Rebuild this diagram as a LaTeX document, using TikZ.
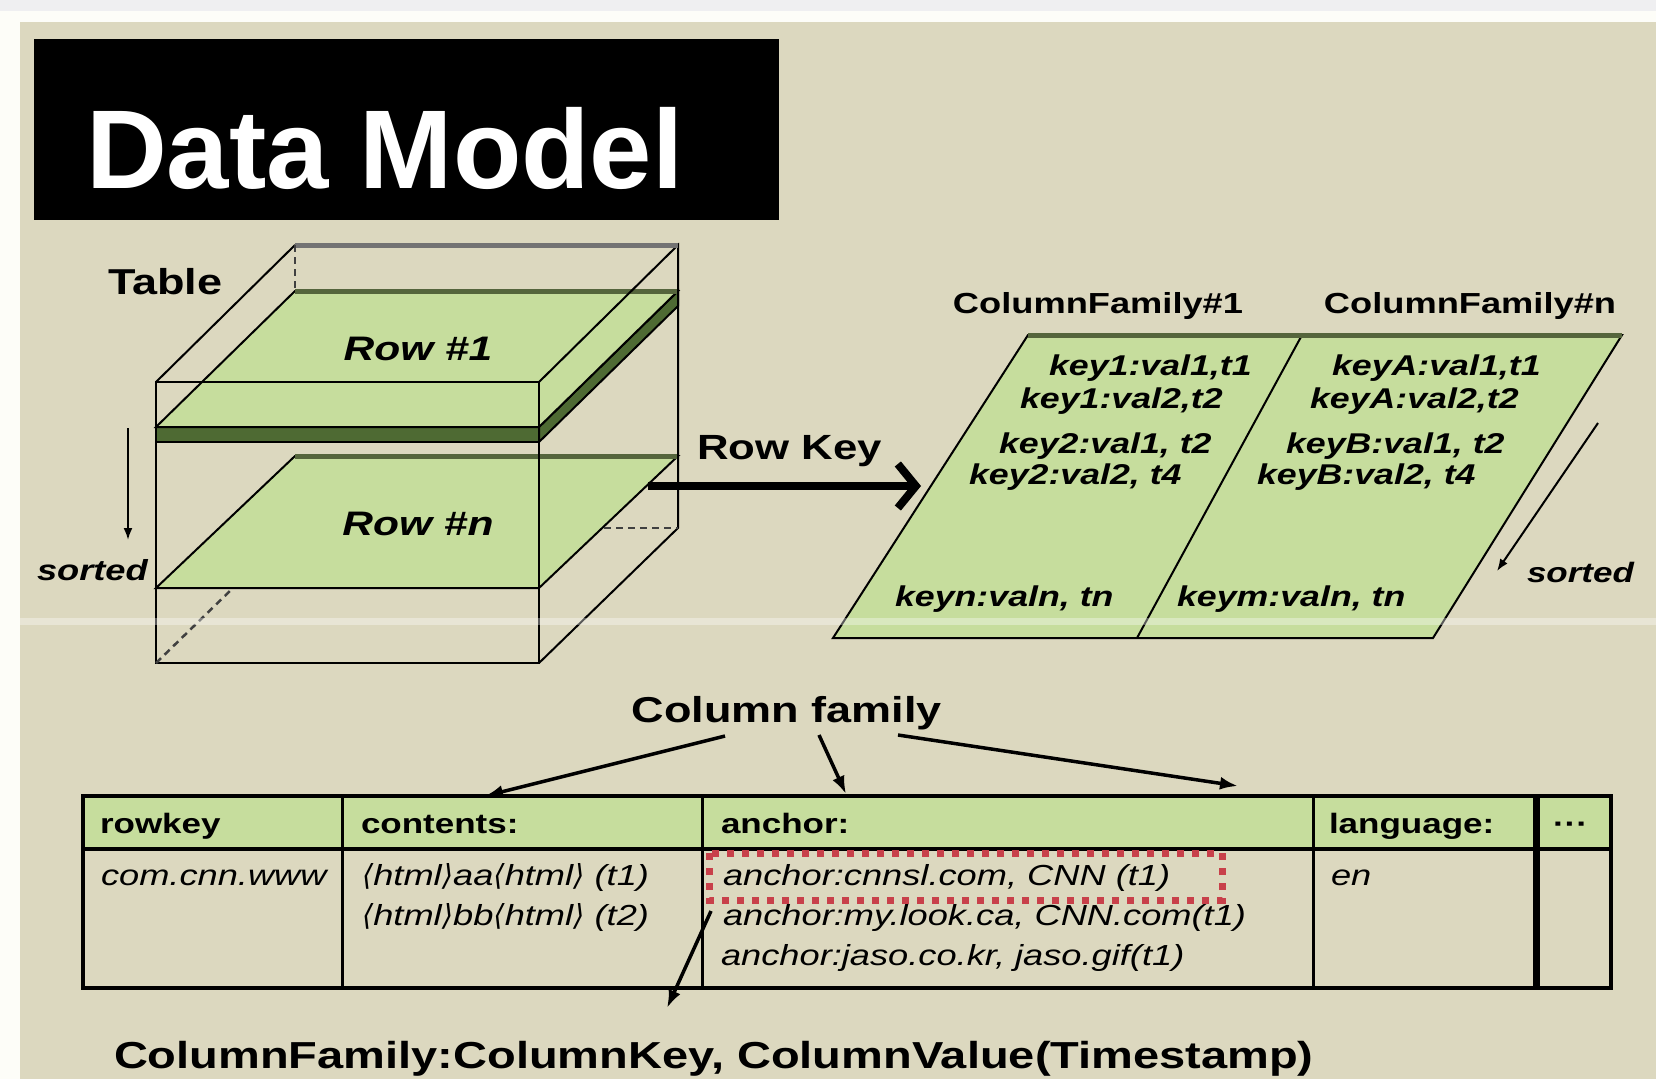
\documentclass[tikz,border=0pt]{standalone}
\usepackage{fontspec}
\setmainfont{Liberation Sans}
\newfontfamily\wf[FakeStretch=1.25]{Liberation Sans}
\newfontfamily\djv{DejaVu Sans}
\usetikzlibrary{arrows.meta}
\definecolor{panel}{HTML}{DCD8BF}
\definecolor{leaf}{HTML}{C6DD9D}
\definecolor{slab}{HTML}{4E6A33}
\definecolor{rim}{HTML}{55653C}
\definecolor{redmark}{HTML}{C8404A}
\definecolor{topstrip}{HTML}{EFEFF1}
\definecolor{paper}{HTML}{FDFDF8}
\newcommand\setfs[1]{\fontsize{#1}{#1}\selectfont}
\newcommand\lab{{\djv ⟨}}
\newcommand\rab{{\djv ⟩}}

\begin{document}
\begin{tikzpicture}[x=1pt,y=-1pt,
  edge/.style={draw=black,line width=2},
  hidden/.style={draw=black!75,line width=2.5,dash pattern=on 7pt off 5pt},
  rimline/.style={draw=rim,line width=5},
  lbl/.style={inner sep=0,outer sep=0,anchor=base west},
  ctr/.style={inner sep=0,outer sep=0,anchor=base},
  keytxt/.style={lbl,font=\wf\bfseries\itshape\setfs{28.6}},
  celltxt/.style={lbl,font=\wf\itshape\setfs{29}},
  headtxt/.style={lbl,font=\wf\bfseries\setfs{28}},
  ptr/.style={line width=3.5,-{Latex[length=18pt,width=13pt]}},
]
\useasboundingbox (0,0) rectangle (1656,1079);

% page and panel
\fill[paper] (0,0) rectangle (1656,1079);
\fill[topstrip] (0,0) rectangle (1656,11);
\fill[panel] (20,22) rectangle (1656,1079);

% title bar
\fill[black] (34,39) rectangle (779,220);
\node[lbl,text=white,font=\bfseries\setfs{112}] (title) at (86,188) {Data Model};

% ---- table cube ----
\coordinate (FTL) at (156,382); \coordinate (FTR) at (539,382);
\coordinate (FBL) at (156,663); \coordinate (FBR) at (539,663);
\coordinate (BTL) at (295,245); \coordinate (BTR) at (678,245);
\coordinate (BBR) at (678,528);

% row #n sheet
\filldraw[fill=leaf,edge] (156,588) -- (539,588) -- (678,456) -- (295,456) -- cycle;
\draw[rimline] (295,456) -- (678,456);
% row #1 slab
\filldraw[fill=slab,edge] (156,427) -- (539,427) -- (539,442) -- (156,442) -- cycle;
\filldraw[fill=slab,edge] (539,427) -- (678,291) -- (678,306) -- (539,442) -- cycle;
\filldraw[fill=leaf,edge] (156,427) -- (539,427) -- (678,291) -- (295,291) -- cycle;
\draw[rimline] (295,291) -- (678,291);

% cube edges
\draw[edge] (FTL) rectangle (FBR);
\draw[edge] (FTL) -- (BTL);
\draw[edge] (FTR) -- (BTR) -- (BBR) -- (FBR);
\draw[draw=black!55,line width=5] (BTL) -- (BTR);
% hidden edges
\draw[hidden] (BTL) -- (295,291);
\draw[hidden] (FBL) -- (233,588);
\draw[hidden] (604,528) -- (BBR);

\node[ctr,font=\wf\bfseries\itshape\setfs{34}] (row1) at (418,360) {Row \#1};
\node[ctr,font=\wf\bfseries\itshape\setfs{34}] (rown) at (418,535) {Row \#n};
\node[lbl,font=\wf\bfseries\setfs{36}] (tablbl) at (108,294) {Table};

% sorted (rows)
\coordinate (rs1) at (128,428);
\coordinate (rs2) at (128,540);
\draw[line width=2,-{Latex[length=12pt,width=9pt]}] (rs1) -- (rs2);
\node[lbl,font=\wf\bfseries\itshape\setfs{29}] (sortl) at (37,580) {sorted};

% row key arrow
\coordinate (rkA) at (648,486);
\coordinate (rkB) at (921,486);
\draw[line width=8,-{Straight Barb[length=18pt,width=44pt]}] (rkA) -- (rkB);
\node[lbl,font=\wf\bfseries\setfs{35}] (rowkey) at (697,459) {Row Key};

% ---- column families sheet ----
\coordinate (PBL) at (833,638); \coordinate (PTL) at (1028,335);
\coordinate (PTR) at (1622,335); \coordinate (PBR) at (1433,638);
\coordinate (PDT) at (1302,335); \coordinate (PDB) at (1137,638);
\filldraw[fill=leaf,edge] (PBL) -- (PTL) -- (PTR) -- (PBR) -- cycle;
\draw[edge] (PDB) -- (PDT);
\draw[rimline] (PTL) -- (PTR);

\node[ctr,font=\wf\bfseries\setfs{29}] (cf1) at (1098,313) {ColumnFamily\#1};
\node[ctr,font=\wf\bfseries\setfs{29}] (cfn) at (1470,313) {ColumnFamily\#n};

\node[keytxt] (k11) at (1049,375) {key1:val1,t1};
\node[keytxt] (k12) at (1020,408) {key1:val2,t2};
\node[keytxt] (k21) at (999,453) {key2:val1, t2};
\node[keytxt] (k22) at (969,484) {key2:val2, t4};
\node[keytxt] (kn)  at (895,606) {keyn:valn, tn};
\node[keytxt] (ka1) at (1332,375) {keyA:val1,t1};
\node[keytxt] (ka2) at (1310,408) {keyA:val2,t2};
\node[keytxt] (kb1) at (1286,453) {keyB:val1, t2};
\node[keytxt] (kb2) at (1257,484) {keyB:val2, t4};
\node[keytxt] (km)  at (1177,606) {keym:valn, tn};

% sorted (columns)
\coordinate (cs1) at (1598,423);
\coordinate (cs2) at (1497,571);
\draw[line width=2,-{Latex[length=12pt,width=9pt]}] (cs1) -- (cs2);
\node[lbl,font=\wf\bfseries\itshape\setfs{28}] (sortr) at (1527,582) {sorted};

% ---- column family table ----
\fill[leaf] (83,796) rectangle (1611,849);
\draw[line width=3] (342,796) -- (342,988);
\draw[line width=3] (702,796) -- (702,988);
\draw[line width=3] (1313,796) -- (1313,988);
\draw[line width=7] (1536,796) -- (1536,988);
\draw[line width=4] (83,849) -- (1611,849);
\draw[line width=4] (83,796) rectangle (1611,988);

\node[headtxt] (h1) at (100,833) {rowkey};
\node[headtxt] (h2) at (361,833) {contents:};
\node[headtxt] (h3) at (721,833) {anchor:};
\node[headtxt] (h4) at (1329,833) {language:};
\node[headtxt] (h5) at (1553,833) {···};

\node[celltxt] (c1)  at (101,885) {com.cnn.www};
\node[celltxt] (c21) at (362,885) {\lab html\rab aa\lab html\rab\ (t1)};
\node[celltxt] (c22) at (362,925) {\lab html\rab bb\lab html\rab\ (t2)};
\node[celltxt] (c31) at (723,885) {anchor:cnnsl.com, CNN (t1)};
\node[celltxt] (c32) at (723,925) {anchor:my.look.ca, CNN.com(t1)};
\node[celltxt] (c33) at (721,965) {anchor:jaso.co.kr, jaso.gif(t1)};
\node[celltxt] (c4)  at (1331,885) {en};

\draw[draw=redmark,line width=7,dash pattern=on 7pt off 8pt] (709,853) rectangle (1222,900);

% column family pointers
\node[ctr,font=\wf\bfseries\setfs{36}] (cfam) at (787,722) {Column family};
\coordinate (cfa1) at (725,736); \coordinate (cfb1) at (485,796);
\coordinate (cfa2) at (819,735); \coordinate (cfb2) at (846,794);
\coordinate (cfa3) at (898,735); \coordinate (cfb3) at (1238,786);
\draw[ptr] (cfa1) -- (cfb1);
\draw[ptr] (cfa2) -- (cfb2);
\draw[ptr] (cfa3) -- (cfb3);

% cell format pointer
\coordinate (fa) at (711,911);
\coordinate (fb) at (667,1008);
\draw[ptr] (fa) -- (fb);
\node[lbl,font=\wf\bfseries\setfs{37.6}] (fmt) at (114,1068) {ColumnFamily:ColumnKey, ColumnValue(Timestamp)};

% light scan band
\fill[white,opacity=0.35] (20,618) rectangle (1656,625);
\end{tikzpicture}
\end{document}
